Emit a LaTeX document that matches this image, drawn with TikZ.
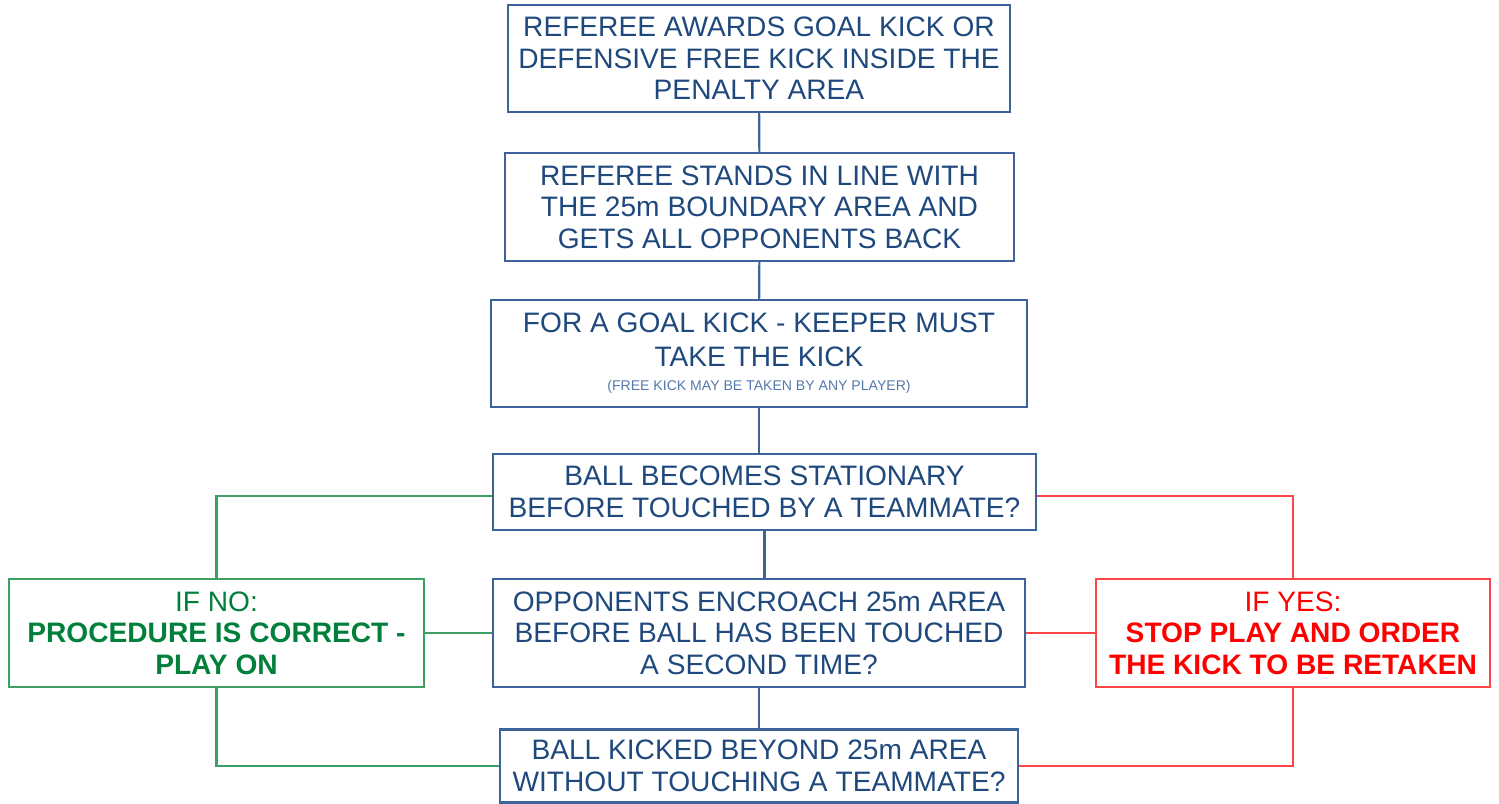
\documentclass[tikz,border=0pt]{standalone}
\usepackage{fontspec}
\setmainfont{Liberation Sans}
\usetikzlibrary{positioning}

\definecolor{flowblue}{RGB}{31,73,125}
\definecolor{flowframe}{RGB}{60,100,155}
\definecolor{smallblue}{RGB}{85,120,170}
\definecolor{nogreen}{RGB}{0,128,58}
\definecolor{noline}{RGB}{60,160,100}
\definecolor{yesred}{RGB}{255,0,0}
\definecolor{yesline}{RGB}{255,70,70}

\begin{document}
\begin{tikzpicture}[x=0.01cm, y=-0.01cm,
    stepbox/.style={draw=flowframe, line width=0.6pt, text=flowblue, align=center,
        inner sep=0pt, font=\fontsize{8}{9}\selectfont},
    nobox/.style={stepbox, draw=noline, text=nogreen},
    yesbox/.style={stepbox, draw=yesline, text=yesred},
    flowlink/.style={draw=flowframe, line width=0.6pt},
    nolink/.style={draw=noline, line width=0.6pt},
    yeslink/.style={draw=yesline, line width=0.6pt}]

    % Page frame
    \useasboundingbox (0,0) rectangle (1499,804);

    % Main steps
    \node[stepbox, minimum width=5.02cm, minimum height=1.07cm] (award) at (759,58.5)
        {REFEREE AWARDS GOAL KICK OR\\DEFENSIVE FREE KICK INSIDE THE\\PENALTY AREA};
    \node[stepbox, minimum width=5.09cm, minimum height=1.08cm] (stand) at (759.5,207)
        {REFEREE STANDS IN LINE WITH\\THE 25m BOUNDARY AREA AND\\GETS ALL OPPONENTS BACK};
    \node[stepbox, minimum width=5.36cm, minimum height=1.07cm] (keeper) at (759,353.5)
        {FOR A GOAL KICK - KEEPER MUST\\[0.5pt]TAKE THE KICK\\[-2pt]
         {\fontsize{4}{5}\selectfont\color{smallblue}(FREE KICK MAY BE TAKEN BY ANY PLAYER)}};

    % Questions
    \node[stepbox, minimum width=5.43cm, minimum height=0.76cm] (still) at (764.5,492)
        {BALL BECOMES STATIONARY\\BEFORE TOUCHED BY A TEAMMATE?};
    \node[stepbox, minimum width=5.32cm, minimum height=1.08cm] (encroach) at (759,633)
        {OPPONENTS ENCROACH 25m AREA\\BEFORE BALL HAS BEEN TOUCHED\\A SECOND TIME?};
    \node[stepbox, minimum width=5.18cm, minimum height=0.73cm] (beyond) at (759,766)
        {BALL KICKED BEYOND 25m AREA\\WITHOUT TOUCHING A TEAMMATE?};

    % Outcomes
    \node[nobox, minimum width=4.14cm, minimum height=1.08cm] (playon) at (216.5,633)
        {IF NO:\\\textbf{PROCEDURE IS CORRECT -}\\\textbf{PLAY ON}};
    \node[yesbox, minimum width=3.94cm, minimum height=1.08cm] (retake) at (1293,633)
        {IF YES:\\\textbf{STOP PLAY AND ORDER}\\\textbf{THE KICK TO BE RETAKEN}};

    % Main line
    \draw[flowlink] (award) -- (stand);
    \draw[flowlink] (stand) -- (keeper);
    \draw[flowlink] (keeper.south) -- (keeper.south |- still.north);
    \draw[flowlink] (still.south) -- (still.south |- encroach.north);
    \draw[flowlink] (encroach) -- (beyond);

    % No branch
    \draw[nolink] ([yshift=-1.1pt]still.west) -| (playon.north);
    \draw[nolink] (encroach.west) -- (playon.east);
    \draw[nolink] (playon.south) |- (beyond.west);

    % Yes branch
    \draw[yeslink] ([yshift=-1.1pt]still.east) -| (retake.north);
    \draw[yeslink] (encroach.east) -- (retake.west);
    \draw[yeslink] (retake.south) |- (beyond.east);
\end{tikzpicture}
\end{document}
